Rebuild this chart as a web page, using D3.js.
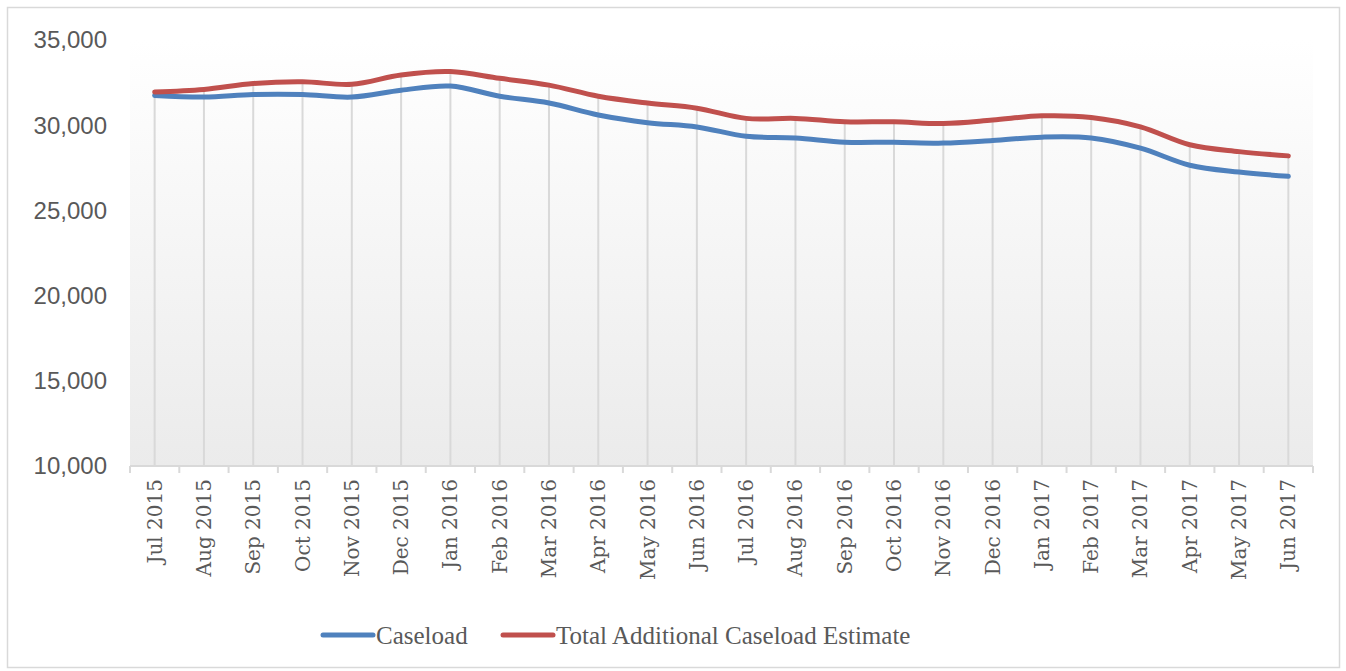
<!DOCTYPE html>
<html>
<head>
<meta charset="utf-8">
<script src="https://cdn.jsdelivr.net/npm/d3@7"></script>
<style>
  body { margin: 0; background: #fff; }
  svg { display: block; }
</style>
</head>
<body>
<div class="chart"></div>
<script>
const months = ["Jul 2015", "Aug 2015", "Sep 2015", "Oct 2015", "Nov 2015", "Dec 2015",
  "Jan 2016", "Feb 2016", "Mar 2016", "Apr 2016", "May 2016", "Jun 2016",
  "Jul 2016", "Aug 2016", "Sep 2016", "Oct 2016", "Nov 2016", "Dec 2016",
  "Jan 2017", "Feb 2017", "Mar 2017", "Apr 2017", "May 2017", "Jun 2017"]

const caseload = [31750, 31650, 31800, 31800, 31650, 32050, 32300, 31700, 31300, 30600, 30150, 29900,
  29350, 29250, 29000, 29000, 28950, 29100, 29300, 29250, 28650, 27650, 27250, 27000]

const additional = [31950, 32100, 32450, 32550, 32400, 32950, 33150, 32750, 32350, 31700, 31300, 31000,
  30400, 30400, 30200, 30200, 30100, 30300, 30550, 30450, 29900, 28850, 28450, 28200]

const yTicks = [10000, 15000, 20000, 25000, 30000, 35000]

const seriesNames = ["Caseload", "Total Additional Caseload Estimate"]
const seriesColors = ["#4f81bd", "#c0504d"]

const width = 1346
const height = 671
const plot = {left: 130, right: 1313, top: 40, bottom: 466}

const svg = d3.select(".chart").append("svg")
  .attr("width", width)
  .attr("height", height)

// outer chart frame
svg.append("rect")
  .attr("x", 7.5).attr("y", 7.5)
  .attr("width", 1332).attr("height", 660)
  .attr("fill", "#fff")
  .attr("stroke", "#d9d9d9")
  .attr("stroke-width", 1.5)

// plot area gradient, white to light gray
const grad = svg.append("defs").append("linearGradient")
  .attr("id", "plotfill")
  .attr("x1", 0).attr("y1", 0).attr("x2", 0).attr("y2", 1)
grad.append("stop").attr("offset", "0%").attr("stop-color", "#ffffff")
grad.append("stop").attr("offset", "100%").attr("stop-color", "#ebebeb")

svg.append("rect")
  .attr("x", plot.left).attr("y", plot.top)
  .attr("width", plot.right - plot.left)
  .attr("height", plot.bottom - plot.top)
  .attr("fill", "url(#plotfill)")

const x = d3.scaleBand()
  .domain(months)
  .range([plot.left, plot.right])

const y = d3.scaleLinear()
  .domain([10000, 35000])
  .range([plot.bottom, plot.top])

const cx = d => x(d) + x.bandwidth() / 2

// drop lines from the top series down to the axis
svg.append("g").selectAll("line")
  .data(months)
  .enter()
  .append("line")
  .attr("x1", d => cx(d)).attr("x2", d => cx(d))
  .attr("y1", (d, i) => y(Math.max(caseload[i], additional[i])))
  .attr("y2", plot.bottom)
  .attr("stroke", "#d9d9d9")
  .attr("stroke-width", 2)

// x axis line + ticks between categories
svg.append("line")
  .attr("x1", plot.left).attr("x2", plot.right)
  .attr("y1", plot.bottom).attr("y2", plot.bottom)
  .attr("stroke", "#d9d9d9")
  .attr("stroke-width", 2)

svg.append("g").selectAll("line")
  .data(d3.range(months.length + 1))
  .enter()
  .append("line")
  .attr("x1", i => plot.left + i * x.step())
  .attr("x2", i => plot.left + i * x.step())
  .attr("y1", plot.bottom).attr("y2", plot.bottom + 7)
  .attr("stroke", "#d9d9d9")
  .attr("stroke-width", 2)

// x labels, rotated
svg.append("g").selectAll("text")
  .data(months)
  .enter()
  .append("text")
  .text(d => d)
  .attr("transform", d => `translate(${cx(d)}, ${plot.bottom + 13}) rotate(-90)`)
  .attr("dy", "0.35em")
  .attr("text-anchor", "end")
  .attr("font-family", "DejaVu Serif")
  .attr("font-size", "20px")
  .attr("fill", "#595959")

// y labels
svg.append("g").selectAll("text")
  .data(yTicks)
  .enter()
  .append("text")
  .text(d => d3.format(",")(d))
  .attr("x", 107)
  .attr("y", d => y(d))
  .attr("dy", "0.35em")
  .attr("text-anchor", "end")
  .attr("font-family", "Liberation Sans")
  .attr("font-size", "24px")
  .attr("fill", "#595959")

const line = d3.line()
  .x((d, i) => cx(months[i]))
  .y(d => y(d))
  .curve(d3.curveCatmullRom)

svg.selectAll("path.series")
  .data([caseload, additional])
  .enter()
  .append("path")
  .attr("class", "series")
  .attr("d", line)
  .attr("fill", "none")
  .attr("stroke", (d, i) => seriesColors[i])
  .attr("stroke-width", 5)
  .attr("stroke-linecap", "round")
  .attr("stroke-linejoin", "round")

// legend
const legendX = [323, 503]
const legend = svg.append("g").selectAll("g")
  .data(seriesNames)
  .enter()
  .append("g")
  .attr("transform", (d, i) => `translate(${legendX[i]}, 635)`)

legend.append("line")
  .attr("x1", 0).attr("x2", 50)
  .attr("stroke", (d, i) => seriesColors[i])
  .attr("stroke-width", 5)
  .attr("stroke-linecap", "round")

legend.append("text")
  .text(d => d)
  .attr("x", 53)
  .attr("dy", "0.35em")
  .attr("font-family", "Liberation Serif")
  .attr("font-size", "25px")
  .attr("fill", "#595959")
</script>
</body>
</html>
